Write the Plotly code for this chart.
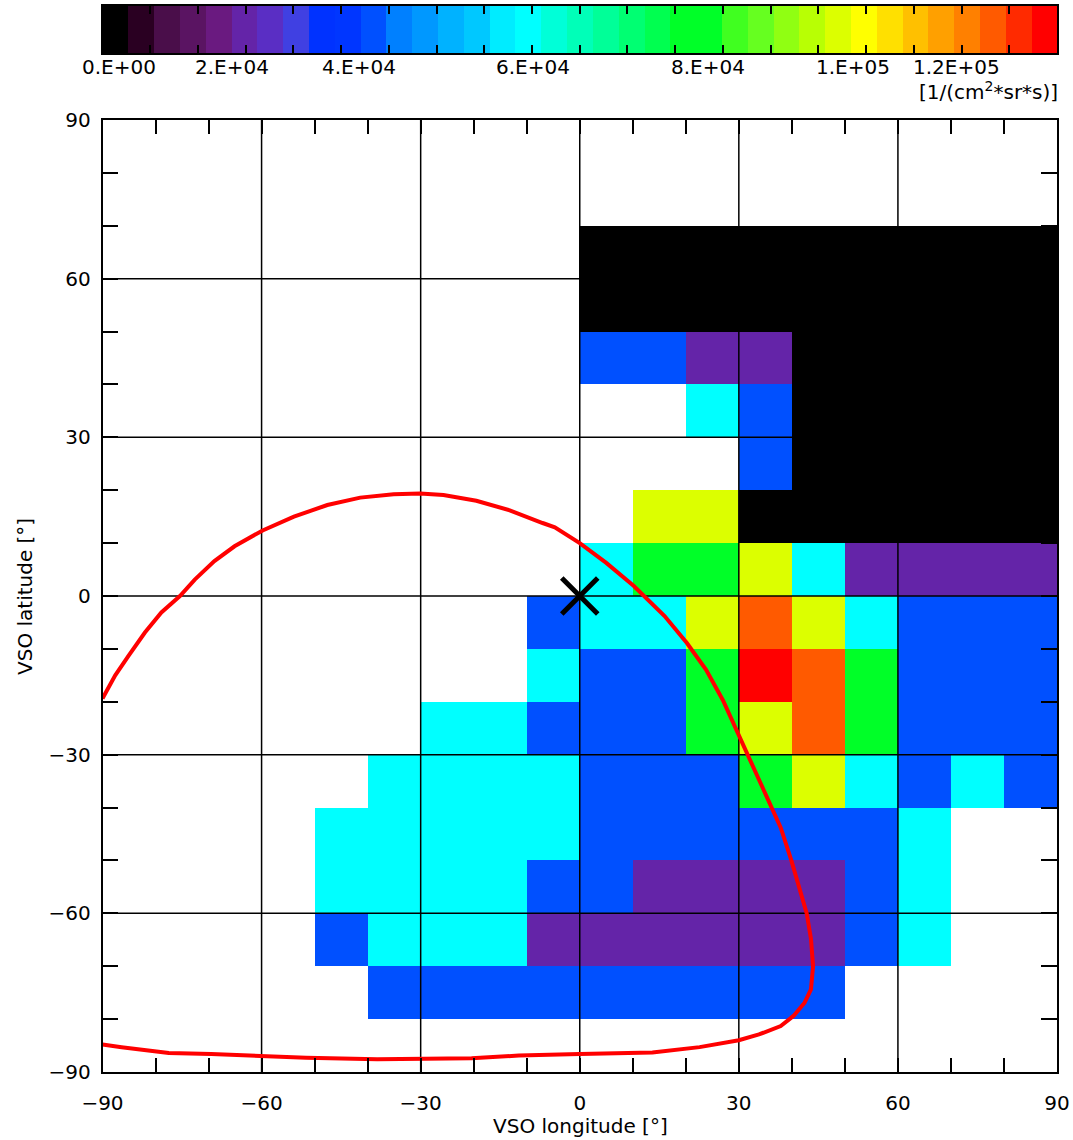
import plotly.graph_objects as go

# ---------------- data ----------------
VMAX = 1.35e5  # top of colour bar [1/(cm^2*sr*s)]

# 37 discrete colour levels of the colour bar (black -> purple -> blue -> cyan -> green -> yellow -> red)
level_colors = [
    "#000000", "#2a0022", "#4a0e4a", "#5a1462", "#6a1a80", "#6424a8", "#5a2ec4", "#4040e2",
    "#0032ff", "#0036ff", "#0050ff", "#0080ff", "#0098ff", "#00b2ff", "#00c8ff", "#00ecff",
    "#00ffff", "#00ffd8", "#00ffb8", "#00ff98", "#00ff72", "#00ff50", "#00ff28", "#00ff28",
    "#40ff20", "#66ff20", "#90ff12", "#b8ff04", "#dcff00", "#ffff00", "#ffe000", "#ffc000",
    "#ffa000", "#ff8000", "#ff5a00", "#ff2a00", "#ff0000",
]

# latitude / longitude bins (bin centres, degrees)
lon_centers = [-85, -75, -65, -55, -45, -35, -25, -15, -5, 5, 15, 25, 35, 45, 55, 65, 75, 85]
lat_centers_top_down = [85, 75, 65, 55, 45, 35, 25, 15, 5, -5, -15, -25, -35, -45, -55, -65, -75, -85]

N = None
# flux map, rows from lat 85 (top) to lat -85 (bottom), columns lon -85 .. 85
flux_rows = [
    [N] * 18,
    [N] * 18,
    [N] * 9 + [0, 0, 0, 0, 0, 0, 0, 0, 0],
    [N] * 9 + [0, 0, 0, 0, 0, 0, 0, 0, 0],
    [N] * 9 + [3.8e4, 3.8e4, 2.0e4, 2.0e4, 0, 0, 0, 0, 0],
    [N] * 9 + [N, N, 6.0e4, 3.8e4, 0, 0, 0, 0, 0],
    [N] * 9 + [N, N, N, 3.8e4, 0, 0, 0, 0, 0],
    [N] * 9 + [N, 1.04e5, 1.04e5, 0, 0, 0, 0, 0, 0],
    [N] * 9 + [6.0e4, 8.2e4, 8.2e4, 1.04e5, 6.0e4, 2.0e4, 2.0e4, 2.0e4, 2.0e4],
    [N] * 8 + [3.8e4, 6.0e4, 6.0e4, 1.04e5, 1.26e5, 1.04e5, 6.0e4, 3.8e4, 3.8e4, 3.8e4],
    [N] * 8 + [6.0e4, 3.8e4, 3.8e4, 8.2e4, 1.33e5, 1.26e5, 8.2e4, 3.8e4, 3.8e4, 3.8e4],
    [N] * 6 + [6.0e4, 6.0e4, 3.8e4, 3.8e4, 3.8e4, 8.2e4, 1.04e5, 1.26e5, 8.2e4, 3.8e4, 3.8e4, 3.8e4],
    [N] * 5 + [6.0e4, 6.0e4, 6.0e4, 6.0e4, 3.8e4, 3.8e4, 3.8e4, 8.2e4, 1.04e5, 6.0e4, 3.8e4, 6.0e4, 3.8e4],
    [N] * 4 + [6.0e4, 6.0e4, 6.0e4, 6.0e4, 6.0e4, 3.8e4, 3.8e4, 3.8e4, 3.8e4, 3.8e4, 3.8e4, 6.0e4, N, N],
    [N] * 4 + [6.0e4, 6.0e4, 6.0e4, 6.0e4, 3.8e4, 3.8e4, 2.0e4, 2.0e4, 2.0e4, 2.0e4, 3.8e4, 6.0e4, N, N],
    [N] * 4 + [3.8e4, 6.0e4, 6.0e4, 6.0e4, 2.0e4, 2.0e4, 2.0e4, 2.0e4, 2.0e4, 2.0e4, 3.8e4, 6.0e4, N, N],
    [N] * 5 + [3.8e4] * 9 + [N] * 4,
    [N] * 18,
]

# red boundary curve (lon, lat in degrees)
curve_lon = [-90, -87.6, -85.1, -82.0, -78.9, -75.4, -72.6, -68.9, -65.1, -59.8, -53.9, -47.6,
             -41.4, -35.1, -30.1, -25.7, -19.5, -13.2, -7.0, -4.7, 0.0, 5.0, 10.2, 14.7, 16.0,
             20.2, 23.8, 27.0, 29.6, 31.6, 34.2, 37.1, 37.9, 39.9, 41.6, 42.8, 43.6, 44.0, 43.6,
             42.4, 40.3, 37.9, 33.8, 30.0, 22.6, 13.7, 0.0, -11.5, -20.4, -30.0, -38.2, -51.6,
             -60.0, -69.5, -77.5, -82.9, -86.4, -90]
curve_lat = [-19.4, -15.0, -11.3, -6.9, -3.1, 0.0, 3.1, 6.6, 9.4, 12.4, 15.0, 17.2,
             18.6, 19.25, 19.4, 19.1, 18.0, 16.2, 13.8, 13.0, 10.0, 6.25, 1.9, -2.5, -3.8,
             -8.9, -13.9, -19.7, -25.4, -30.1, -35.5, -41.9, -43.8, -50.0, -56.1, -60.0, -64.8, -70.0, -74.4,
             -76.9, -79.4, -81.3, -82.9, -84.0, -85.3, -86.3, -86.6, -86.9, -87.4, -87.6, -87.6, -87.3,
             -86.9, -86.6, -86.4, -85.8, -85.3, -84.8]

# black cross marker
marker_lon = [0]
marker_lat = [0]

# axes
axis_ticks = [-90, -60, -30, 0, 30, 60, 90]
grid_vals = [-60, -30, 0, 30, 60]

# colour bar labels (text, position as fraction of bar length)
cb_label_text = ["0.E+00", "2.E+04", "4.E+04", "6.E+04", "8.E+04", "1.E+05", "1.2E+05"]
cb_label_frac = [0.0175, 0.1357, 0.2687, 0.4510, 0.6344, 0.7863, 0.8942]
cb_units = "[1/(cm<sup>2</sup>*sr*s)]"

# ---------------- figure ----------------
W, H = 1073, 1140
nlev = len(level_colors)
colorscale = []
for i, c in enumerate(level_colors):
    colorscale.append([i / nlev, c])
    colorscale.append([(i + 1) / nlev, c])

lat_centers = lat_centers_top_down[::-1]
flux = flux_rows[::-1]

FONT = "DejaVu Sans"
fig = go.Figure()

fig.add_trace(go.Heatmap(
    x=lon_centers, y=lat_centers, z=flux, colorscale=colorscale,
    zmin=0, zmax=VMAX, showscale=False, hoverongaps=False,
    xaxis="x", yaxis="y",
))

# grid lines as one line trace (drawn above the heat map, below the curve)
gx, gy = [], []
for v in grid_vals:
    gx += [v, v, None]
    gy += [-90, 90, None]
    gx += [-90, 90, None]
    gy += [v, v, None]
fig.add_trace(go.Scatter(x=gx, y=gy, mode="lines", line=dict(color="black", width=1.5),
                         hoverinfo="skip", showlegend=False, xaxis="x", yaxis="y"))

fig.add_trace(go.Scatter(x=curve_lon, y=curve_lat, mode="lines",
                         line=dict(color="#ff0000", width=4), showlegend=False,
                         xaxis="x", yaxis="y"))

fig.add_trace(go.Scatter(x=marker_lon, y=marker_lat, mode="markers",
                         marker=dict(symbol="x-thin", size=36, line=dict(color="black", width=5)),
                         showlegend=False, xaxis="x", yaxis="y"))

# colour bar as its own heat map
step = VMAX / nlev
cb_x = [step * (i + 0.5) for i in range(nlev)]
fig.add_trace(go.Heatmap(
    x=cb_x, y=[0], z=[cb_x], colorscale=colorscale, zmin=0, zmax=VMAX,
    showscale=False, xaxis="x2", yaxis="y2", hoverinfo="skip",
))

x_dom = [102.5 / W, 1057.0 / W]
y_dom = [1 - 1072.0 / H, 1 - 120.0 / H]
cb_dom = [1 - 53.0 / H, 1 - 6.0 / H]

axis_common = dict(
    showline=True, linecolor="black", linewidth=1.5, mirror="ticks",
    ticks="inside", tickcolor="black", tickwidth=1.5, showgrid=False, zeroline=False,
    tickfont=dict(family=FONT, size=20, color="black"),
    tickmode="array", tickvals=axis_ticks, range=[-90, 90], automargin=False,
)

fig.update_layout(
    template="none",
    width=W, height=H, margin=dict(l=0, r=0, t=0, b=0, pad=0), autosize=False,
    paper_bgcolor="white", plot_bgcolor="white", showlegend=False,
    xaxis=dict(domain=x_dom, anchor="y", ticklen=14, ticklabelstandoff=12,
               minor=dict(dtick=10, tick0=0, ticks="inside", ticklen=14, tickwidth=1.5,
                          tickcolor="black", showgrid=False),
               **axis_common),
    yaxis=dict(domain=y_dom, anchor="x", ticklen=16, ticklabelstandoff=6,
               minor=dict(dtick=10, tick0=0, ticks="inside", ticklen=16, tickwidth=1.5,
                          tickcolor="black", showgrid=False),
               **axis_common),
    xaxis2=dict(domain=x_dom, anchor="y2", range=[0, VMAX], showline=True, linecolor="black",
                linewidth=1.5, mirror="ticks", ticks="inside", ticklen=8, tickwidth=1.5,
                tickcolor="black", dtick=VMAX / 20, tick0=0, showticklabels=False,
                showgrid=False, zeroline=False, automargin=False),
    yaxis2=dict(domain=cb_dom, anchor="x2", range=[-0.5, 0.5], showline=True, linecolor="black",
                linewidth=1.5, mirror=True, ticks="", showticklabels=False,
                showgrid=False, zeroline=False, automargin=False),
)

annotations = []
for t, f in zip(cb_label_text, cb_label_frac):
    annotations.append(dict(x=f * VMAX, y=1 - 67.0 / H, xref="x2", yref="paper", text=t,
                            showarrow=False, xanchor="center", yanchor="middle",
                            font=dict(family=FONT, size=20, color="black")))
annotations.append(dict(x=1060.0 / W, y=1 - 91.0 / H, xref="paper", yref="paper", text=cb_units,
                        showarrow=False, xanchor="right", yanchor="middle",
                        font=dict(family=FONT, size=20, color="black")))
annotations.append(dict(x=580.0 / W, y=1 - 1126.0 / H, xref="paper", yref="paper",
                        text="VSO longitude [°]", showarrow=False, xanchor="center",
                        yanchor="middle", font=dict(family=FONT, size=20, color="black")))
annotations.append(dict(x=25.0 / W, y=1 - 597.0 / H, xref="paper", yref="paper",
                        text="VSO latitude [°]", showarrow=False, textangle=-90,
                        xanchor="center", yanchor="middle",
                        font=dict(family=FONT, size=20, color="black")))
fig.update_layout(annotations=annotations)

fig.write_html("out.html")
